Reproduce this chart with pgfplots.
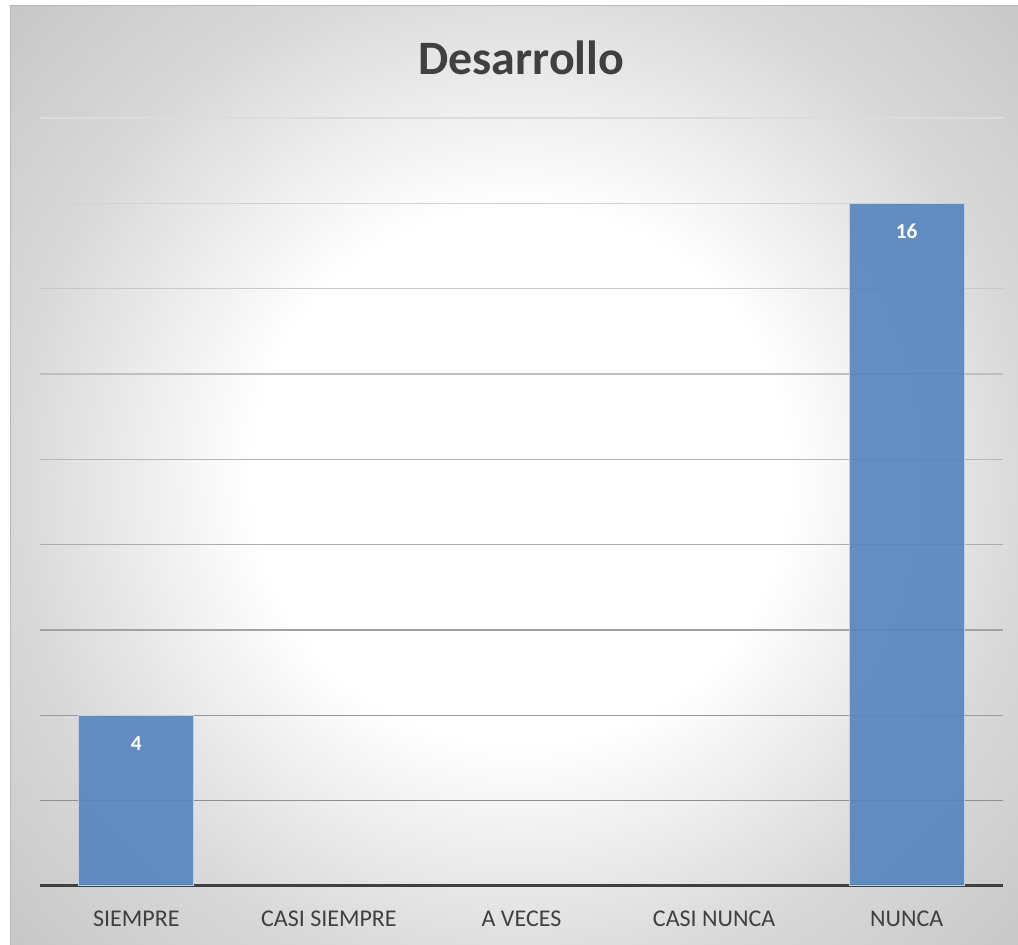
\documentclass[border=0pt]{standalone}
\usepackage{pgfplots}
\pgfplotsset{compat=1.18}
\usepackage{fontspec}
\setmainfont{Carlito}
\definecolor{txt}{HTML}{404040}
\definecolor{barfill}{RGB}{85,132,189}
\definecolor{barline}{RGB}{190,208,232}
\pgfdeclareradialshading{chartbg}{\pgfpoint{0bp}{0bp}}{color(0bp)=(white); color(200bp)=(white); color(378bp)=(black!15); color(520bp)=(black!22)}
\begin{document}
\begin{tikzpicture}
\useasboundingbox (0pt,0pt) rectangle (763.5pt,708.75pt);
\fill[white] (0pt,0pt) rectangle (763.5pt,708.75pt);
\begin{scope}
\clip (7.5pt,0pt) rectangle (763.5pt,704.25pt);
\node[inner sep=0pt, outer sep=0pt] at (390pt,352pt) {\pgfuseshading{chartbg}};
\end{scope}
\draw[black!28, line width=0.75pt] (7.5pt,0pt) -- (7.5pt,704.25pt) -- (763.5pt,704.25pt);
\node[anchor=base, font=\fontsize{36}{40}\selectfont\bfseries, text=txt] at (391pt,652.5pt) {Desarrollo};
\begin{axis}[
  at={(30pt,44.25pt)}, anchor=south west,
  scale only axis, width=722.25pt, height=576pt,
  xmin=-0.5, xmax=4.5, ymin=0, ymax=18,
  ybar, bar width=86.25pt,
  axis x line*=bottom, axis y line=none,
  x axis line style={draw=txt, line width=2.25pt, -},
  xtick={0,1,2,3,4},
  xticklabels={SIEMPRE, CASI SIEMPRE, A VECES, CASI NUNCA, NUNCA},
  major tick length=0pt,
  ytick=\empty,
  xticklabel style={anchor=base, yshift=-30.5pt, font=\fontsize{18}{20}\selectfont, text=txt},
  clip=false,
  /pgf/number format/assume math mode=true,
  nodes near coords,
  every node near coord/.append style={anchor=base, yshift=-26.5pt, font=\fontsize{16}{18}\selectfont\bfseries, text=white},
]
\draw[color={rgb,255:red,143;green,143;blue,143}, line width=0.9pt] (axis cs:-0.5,2) -- (axis cs:4.5,2);
\draw[color={rgb,255:red,153;green,153;blue,153}, line width=0.9pt] (axis cs:-0.5,4) -- (axis cs:4.5,4);
\draw[color={rgb,255:red,162;green,162;blue,162}, line width=0.9pt] (axis cs:-0.5,6) -- (axis cs:4.5,6);
\draw[color={rgb,255:red,172;green,172;blue,172}, line width=0.9pt] (axis cs:-0.5,8) -- (axis cs:4.5,8);
\draw[color={rgb,255:red,182;green,182;blue,182}, line width=0.9pt] (axis cs:-0.5,10) -- (axis cs:4.5,10);
\draw[color={rgb,255:red,191;green,191;blue,191}, line width=0.9pt] (axis cs:-0.5,12) -- (axis cs:4.5,12);
\draw[color={rgb,255:red,201;green,201;blue,201}, line width=0.9pt] (axis cs:-0.5,14) -- (axis cs:4.5,14);
\draw[color={rgb,255:red,210;green,210;blue,210}, line width=0.9pt] (axis cs:-0.5,16) -- (axis cs:4.5,16);
\draw[color={rgb,255:red,220;green,220;blue,220}, line width=0.9pt] (axis cs:-0.5,18) -- (axis cs:4.5,18);
\addplot[fill=barfill, fill opacity=0.9, draw=barline, line width=0.75pt, text opacity=1] coordinates {(0,4) (4,16)};
\end{axis}
\end{tikzpicture}
\end{document}
